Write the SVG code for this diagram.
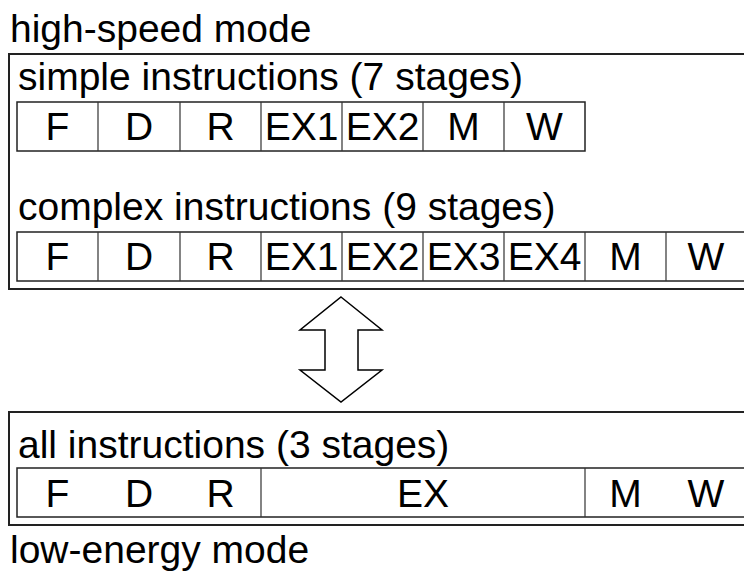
<svg xmlns="http://www.w3.org/2000/svg" width="744" height="574" viewBox="0 0 744 574">
<style>
text{font-family:"Liberation Sans",Arial,sans-serif;font-size:39px;fill:#000}
.c{text-anchor:middle}
.outer{fill:none;stroke:#222;stroke-width:2}
.row{fill:none;stroke:#222;stroke-width:1.5}
.div{stroke:#333;stroke-width:1.2}
.arrow{fill:#fff;stroke:#000;stroke-width:1.5;stroke-linejoin:miter}
</style>
<rect width="744" height="574" fill="#fff"/>
<g id="high-speed">
<text x="10" y="42">high-speed mode</text>
<rect class="outer" x="9" y="54" width="760" height="235"/>
</g>
<g id="simple">
<text x="18" y="90">simple instructions (7 stages)</text>
<rect class="row" x="17" y="102" width="568" height="49"/>
<path class="div" d="M98 102V151M180 102V151M261 102V151M342 102V151M423 102V151M504 102V151"/>
<text class="c" x="57.5" y="140">F</text>
<text class="c" x="139" y="140">D</text>
<text class="c" x="220.5" y="140">R</text>
<text class="c" x="301.5" y="140">EX1</text>
<text class="c" x="382.5" y="140">EX2</text>
<text class="c" x="463.5" y="140">M</text>
<text class="c" x="544.5" y="140">W</text>
</g>
<g id="complex">
<text x="18" y="220">complex instructions (9 stages)</text>
<rect class="row" x="17" y="232" width="750" height="49"/>
<path class="div" d="M98 232V281M180 232V281M261 232V281M342 232V281M423 232V281M504 232V281M585 232V281M666 232V281"/>
<text class="c" x="57.5" y="270">F</text>
<text class="c" x="139" y="270">D</text>
<text class="c" x="220.5" y="270">R</text>
<text class="c" x="301.5" y="270">EX1</text>
<text class="c" x="382.5" y="270">EX2</text>
<text class="c" x="463.5" y="270">EX3</text>
<text class="c" x="544.5" y="270">EX4</text>
<text class="c" x="625.5" y="270">M</text>
<text class="c" x="706" y="270">W</text>
</g>
<g id="connectors">
<polygon class="arrow" points="341,297 382,330 358,330 358,370 382,370 341,402 300,370 325,370 325,330 300,330"/>
</g>
<g id="low-energy">
<rect class="outer" x="9" y="412" width="760" height="113"/>
<text x="18" y="458">all instructions (3 stages)</text>
<rect class="row" x="17" y="468" width="750" height="49"/>
<path class="div" d="M261 468V517M585 468V517"/>
<text class="c" x="57.5" y="507">F</text>
<text class="c" x="139" y="507">D</text>
<text class="c" x="220.5" y="507">R</text>
<text class="c" x="423" y="507">EX</text>
<text class="c" x="625.5" y="507">M</text>
<text class="c" x="706" y="507">W</text>
<text x="10" y="563">low-energy mode</text>
</g>
</svg>
